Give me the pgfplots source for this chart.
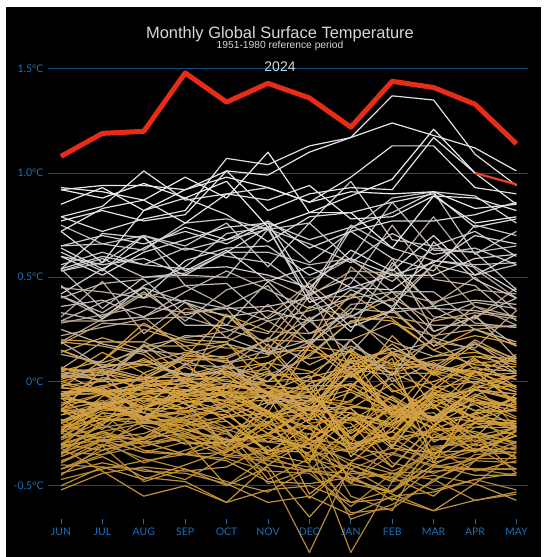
\documentclass[border=0pt]{standalone}
\usepackage{pgfplots}
\pgfplotsset{compat=1.18}
\usepackage{pgfplotstable}
\usetikzlibrary{backgrounds}
\usepackage{fontspec}
\setmainfont{Lato}
\newfontfamily\helv{Liberation Sans}
\definecolor{tickblue}{RGB}{25,112,185}
\definecolor{gridblue}{RGB}{12,78,128}
\definecolor{cA}{RGB}{172,132,58}
\definecolor{cB}{RGB}{218,162,48}
\definecolor{cC}{RGB}{205,160,90}
\definecolor{cD}{RGB}{182,162,138}
\definecolor{cE}{RGB}{195,190,186}
\definecolor{cF}{RGB}{236,236,240}
\definecolor{hot}{RGB}{232,45,22}
\definecolor{titlegrey}{RGB}{215,215,215}

\pgfplotstableread{
yr m0 m1 m2 m3 m4 m5 m6 m7 m8 m9 m10 m11
1880 -0.16 -0.10 -0.09 -0.14 -0.22 -0.20 -0.09 -0.01 -0.19 -0.04 -0.14 -0.24
1881 -0.27 -0.12 -0.18 -0.23 -0.22 -0.21 -0.17 0.10 0.09 0.05 0.01 -0.02
1882 -0.20 -0.28 -0.13 -0.16 -0.23 -0.29 -0.28 -0.34 -0.27 -0.24 -0.34 -0.20
1883 -0.14 -0.09 -0.19 -0.24 -0.33 -0.19 -0.30 -0.38 -0.32 -0.37 -0.32 -0.42
1884 -0.42 -0.33 -0.29 -0.35 -0.37 -0.43 -0.44 -0.60 -0.44 -0.52 -0.47 -0.52
1885 -0.42 -0.35 -0.31 -0.27 -0.28 -0.29 -0.32 -0.42 -0.34 -0.41 -0.37 -0.31
1886 -0.30 -0.15 -0.31 -0.26 -0.35 -0.37 -0.29 -0.66 -0.59 -0.48 -0.35 -0.34
1887 -0.39 -0.30 -0.37 -0.42 -0.50 -0.36 -0.43 -0.44 -0.46 -0.27 -0.26 -0.31
1888 -0.34 -0.20 -0.13 -0.19 -0.10 -0.03 -0.07 -0.10 0.14 0.04 -0.01 -0.10
1889 -0.11 -0.06 -0.17 -0.27 -0.25 -0.38 -0.41 -0.48 -0.35 -0.40 -0.42 -0.45
1890 -0.36 -0.28 -0.39 -0.33 -0.27 -0.49 -0.42 -0.40 -0.47 -0.31 -0.30 -0.22
1891 -0.30 -0.24 -0.20 -0.18 -0.36 -0.38 -0.12 -0.49 -0.30 -0.37 -0.26 -0.22
1892 -0.34 -0.35 -0.27 -0.14 -0.31 -0.43 -0.82 -0.40 -0.48 -0.45 -0.49 -0.34
1893 -0.34 -0.28 -0.34 -0.29 -0.30 -0.33 -0.30 -0.82 -0.48 -0.32 -0.28 -0.33
1894 -0.32 -0.21 -0.27 -0.23 -0.29 -0.25 -0.21 -0.55 -0.62 -0.25 -0.34 -0.24
1895 -0.25 -0.12 -0.08 -0.15 -0.10 -0.14 -0.30 -0.34 -0.43 -0.35 -0.20 -0.20
1896 -0.06 -0.02 -0.11 -0.06 -0.06 -0.16 -0.09 -0.11 -0.16 -0.19 0.05 -0.04
1897 -0.20 -0.12 -0.05 -0.10 -0.09 -0.23 -0.25 -0.22 -0.11 -0.36 -0.15 -0.32
1898 -0.30 -0.25 -0.29 -0.28 -0.36 -0.34 -0.28 -0.15 -0.39 -0.44 -0.37 -0.29
1899 -0.20 -0.11 -0.03 -0.07 -0.06 -0.05 -0.28 -0.30 -0.24 -0.06 -0.14 -0.14
1900 -0.10 -0.10 -0.02 0.01 0.01 -0.06 -0.20 -0.18 -0.21 -0.07 -0.04 -0.06
1901 -0.13 -0.17 -0.13 -0.20 -0.25 -0.37 -0.25 -0.34 -0.17 -0.11 -0.31 -0.26
1902 -0.36 -0.28 -0.30 -0.25 -0.32 -0.40 -0.43 -0.24 -0.07 -0.33 -0.26 -0.44
1903 -0.38 -0.31 -0.48 -0.42 -0.48 -0.53 -0.42 -0.63 -0.61 -0.47 -0.57 -0.54
1904 -0.50 -0.41 -0.42 -0.47 -0.36 -0.25 -0.35 -0.49 -0.53 -0.36 -0.37 -0.37
1905 -0.27 -0.22 -0.19 -0.21 -0.31 -0.06 -0.14 -0.13 -0.28 -0.10 -0.02 -0.22
1906 -0.23 -0.31 -0.18 -0.25 -0.32 -0.14 -0.40 -0.58 -0.52 -0.40 -0.45 -0.45
1907 -0.47 -0.42 -0.38 -0.35 -0.23 -0.47 -0.37 -0.42 -0.53 -0.32 -0.43 -0.38
1908 -0.42 -0.36 -0.46 -0.48 -0.58 -0.52 -0.50 -0.58 -0.56 -0.62 -0.57 -0.53
1909 -0.52 -0.44 -0.41 -0.43 -0.41 -0.31 -0.56 -0.39 -0.44 -0.47 -0.38 -0.39
1910 -0.44 -0.39 -0.43 -0.44 -0.49 -0.58 -0.55 -0.64 -0.55 -0.53 -0.47 -0.44
1911 -0.40 -0.41 -0.47 -0.40 -0.33 -0.27 -0.32 -0.45 -0.57 -0.41 -0.42 -0.42
1912 -0.32 -0.43 -0.55 -0.50 -0.58 -0.40 -0.43 -0.47 -0.44 -0.43 -0.42 -0.42
1913 -0.39 -0.28 -0.34 -0.35 -0.34 -0.17 -0.16 0.04 -0.11 -0.18 -0.08 -0.17
1914 -0.28 -0.19 -0.17 -0.15 -0.03 -0.17 -0.12 -0.19 -0.07 -0.18 -0.06 -0.13
1915 -0.13 -0.10 -0.15 -0.19 -0.24 -0.15 -0.23 -0.12 -0.15 -0.28 -0.26 -0.37
1916 -0.45 -0.31 -0.29 -0.35 -0.38 -0.48 -0.49 -0.46 -0.54 -0.62 -0.49 -0.57
1917 -0.35 -0.19 -0.17 -0.28 -0.50 -0.41 -0.65 -0.43 -0.46 -0.55 -0.38 -0.23
1918 -0.30 -0.24 -0.29 -0.21 -0.11 -0.21 -0.38 -0.23 -0.27 -0.39 -0.33 -0.32
1919 -0.25 -0.27 -0.25 -0.17 -0.24 -0.40 -0.28 -0.15 -0.28 -0.23 -0.24 -0.30
1920 -0.32 -0.26 -0.28 -0.18 -0.28 -0.35 -0.39 -0.02 -0.14 -0.19 -0.33 -0.26
1921 -0.25 -0.10 -0.20 -0.17 -0.12 -0.25 -0.12 -0.27 -0.41 -0.21 -0.33 -0.34
1922 -0.35 -0.24 -0.33 -0.35 -0.29 -0.20 -0.28 -0.40 -0.48 -0.23 -0.22 -0.19
1923 -0.31 -0.28 -0.27 -0.17 -0.14 -0.06 -0.07 -0.18 -0.29 -0.24 -0.20 -0.21
1924 -0.18 -0.29 -0.21 -0.26 -0.34 -0.21 -0.36 -0.32 -0.35 -0.17 -0.25 -0.29
1925 -0.22 -0.18 -0.18 -0.14 -0.12 0.03 0.04 0.15 0.04 0.04 -0.10 -0.12
1926 -0.14 -0.23 -0.07 -0.10 -0.09 -0.07 -0.20 -0.33 -0.16 -0.15 -0.29 -0.22
1927 -0.22 -0.12 -0.17 -0.07 -0.05 -0.07 -0.38 -0.02 -0.14 -0.28 -0.27 -0.24
1928 -0.31 -0.15 -0.17 -0.20 -0.17 -0.15 -0.22 -0.47 -0.53 -0.40 -0.30 -0.36
1929 -0.30 -0.33 -0.27 -0.25 -0.17 -0.15 -0.54 -0.39 -0.22 -0.27 -0.18 -0.23
1930 -0.20 -0.13 -0.12 -0.08 -0.09 0.09 -0.05 -0.28 -0.12 -0.11 -0.17 -0.22
1931 -0.07 -0.02 0.01 -0.07 0.03 -0.09 -0.14 0.11 -0.32 -0.04 -0.10 -0.18
1932 -0.23 -0.14 -0.13 -0.04 -0.12 -0.25 -0.13 -0.31 -0.24 -0.35 -0.22 -0.22
1933 -0.24 -0.18 -0.20 -0.21 -0.19 -0.33 -0.34 -0.17 -0.22 -0.06 -0.14 -0.08
1934 -0.06 -0.06 -0.06 -0.13 -0.05 -0.05 -0.02 -0.30 0.05 -0.29 -0.20 -0.26
1935 -0.27 -0.15 -0.17 -0.14 -0.16 -0.29 -0.18 -0.20 -0.41 -0.21 -0.10 -0.11
1936 -0.07 -0.05 -0.04 -0.06 -0.02 -0.05 -0.05 -0.25 -0.12 -0.17 -0.04 -0.09
1937 0.01 0.07 0.17 0.17 0.04 -0.02 -0.04 0.11 0.14 0.08 0.02 -0.05
1938 -0.01 -0.06 -0.02 0.08 0.18 0.06 -0.18 -0.09 0.02 -0.21 -0.03 -0.02
1939 -0.03 -0.04 -0.06 -0.05 0.03 0.06 0.31 0.02 0.13 0.04 0.18 0.11
1940 0.15 0.07 0.09 0.14 0.09 0.12 0.36 0.31 0.29 0.15 0.25 0.17
1941 0.14 0.21 0.15 -0.01 0.32 0.14 0.15 0.09 0.04 0.10 0.12 0.11
1942 0.06 0.04 0.00 0.01 0.06 0.09 0.05 -0.04 0.22 0.03 0.09 0.10
1943 0.02 0.14 0.04 0.12 0.32 0.24 0.23 0.28 0.34 0.17 0.22 0.18
1944 0.20 0.19 0.19 0.35 0.32 0.17 0.11 0.14 0.04 -0.04 0.11 -0.03
1945 -0.03 0.10 0.28 0.17 0.19 -0.03 -0.10 0.16 -0.04 -0.13 0.05 -0.11
1946 -0.24 -0.07 -0.02 -0.01 -0.05 -0.15 -0.28 -0.12 -0.14 0.07 0.05 -0.10
1947 0.00 -0.05 -0.12 -0.05 0.07 -0.06 -0.19 0.05 -0.14 -0.22 -0.01 0.03
1948 -0.13 -0.06 -0.13 -0.13 -0.05 -0.14 -0.28 0.07 -0.16 -0.06 -0.09 -0.12
1949 -0.16 -0.12 -0.08 -0.10 -0.06 -0.17 -0.13 -0.30 -0.27 -0.09 -0.17 -0.19
1950 -0.08 -0.11 -0.17 -0.07 -0.19 -0.34 -0.21 -0.32 -0.27 -0.07 -0.20 -0.06
1951 -0.14 0.06 0.01 0.11 0.10 -0.06 0.17 0.14 -0.05 0.00 0.07 0.01
1952 -0.06 -0.03 0.02 0.02 -0.08 -0.20 -0.01 0.06 0.07 0.12 0.14 0.09
1953 0.06 0.04 0.08 0.10 0.03 -0.10 -0.05 -0.27 -0.12 -0.23 -0.15 -0.14
1954 -0.14 -0.18 -0.13 -0.06 -0.03 0.05 -0.18 0.13 -0.17 -0.17 -0.19 -0.20
1955 -0.08 -0.21 0.00 -0.09 -0.14 -0.35 -0.30 -0.17 -0.32 -0.34 -0.33 -0.26
1956 -0.19 -0.13 -0.15 -0.23 -0.28 -0.26 -0.13 -0.05 -0.15 -0.06 0.05 -0.03
1957 0.02 0.03 0.11 0.01 0.02 0.09 0.19 0.42 0.30 0.15 0.08 0.07
1958 0.00 0.05 -0.05 -0.04 -0.03 0.00 0.02 0.07 0.08 0.08 0.03 0.04
1959 0.06 0.05 0.01 -0.02 -0.10 -0.09 -0.02 -0.02 0.11 -0.39 -0.07 -0.13
1960 -0.03 -0.05 -0.01 0.07 -0.02 -0.15 0.17 0.02 0.14 -0.02 0.12 0.08
1961 0.07 0.00 0.01 0.04 0.00 -0.02 -0.13 0.07 0.16 0.06 0.05 0.01
1962 0.04 -0.05 -0.03 0.01 -0.05 0.04 0.00 0.03 0.13 -0.12 -0.03 0.03
1963 0.05 0.10 0.25 0.19 0.16 0.16 -0.05 -0.01 -0.09 -0.18 -0.04 -0.08
1964 -0.05 -0.04 -0.22 -0.30 -0.29 -0.26 -0.32 -0.15 -0.20 -0.12 -0.27 -0.08
1965 -0.07 -0.12 -0.06 -0.02 -0.01 -0.05 -0.08 -0.13 -0.01 -0.19 -0.07 0.03
1966 -0.06 0.01 -0.10 0.00 -0.15 -0.05 -0.16 0.04 -0.16 -0.03 0.00 -0.05
1967 -0.12 0.02 -0.03 -0.05 0.05 -0.05 0.03 -0.36 -0.19 -0.05 -0.18 -0.13
1968 -0.08 -0.11 -0.08 -0.13 -0.01 -0.05 -0.14 -0.15 -0.21 0.05 0.20 0.10
1969 0.03 0.01 0.01 0.12 0.12 0.20 0.19 0.04 0.18 0.04 0.10 0.04
1970 -0.06 -0.03 -0.15 0.09 -0.08 -0.07 -0.11 0.03 -0.08 -0.19 -0.16 -0.08
1971 -0.14 -0.13 -0.01 -0.04 -0.07 -0.07 -0.08 -0.32 -0.24 -0.02 -0.10 -0.14
1972 -0.02 0.00 0.18 0.03 0.08 0.00 0.13 0.29 0.31 0.27 0.27 0.26
1973 0.15 0.08 0.08 0.03 0.04 -0.06 -0.12 -0.13 -0.31 -0.08 -0.04 -0.06
1974 -0.06 -0.13 0.04 -0.11 -0.17 -0.10 -0.09 0.10 0.06 0.08 0.04 0.13
1975 -0.06 -0.04 -0.13 -0.06 -0.11 -0.17 -0.09 -0.04 -0.13 -0.17 -0.11 -0.22
1976 -0.19 -0.10 -0.17 -0.10 -0.31 -0.11 0.01 0.20 0.28 0.22 0.25 0.27
1977 0.19 0.17 0.13 0.00 -0.03 0.18 -0.04 0.09 0.16 0.07 0.19 0.05
1978 0.02 0.06 -0.20 0.02 0.07 0.21 0.08 0.17 0.08 0.20 0.06 0.05
1979 0.05 0.00 0.17 0.21 0.24 0.31 0.47 0.31 0.40 0.29 0.33 0.30
1980 0.18 0.28 0.27 0.20 0.19 0.29 0.18 0.55 0.39 0.56 0.36 0.31
1981 0.29 0.29 0.31 0.15 0.11 0.20 0.43 0.06 0.03 0.21 0.15 0.04
1982 0.03 0.07 0.02 0.13 0.09 0.15 0.41 0.53 0.52 0.31 0.30 0.45
1983 0.19 0.30 0.42 0.38 0.21 0.37 0.18 0.32 0.14 0.19 0.16 0.34
1984 0.06 0.19 0.19 0.10 0.11 -0.11 -0.07 0.20 0.00 0.09 -0.01 0.12
1985 0.04 0.03 0.17 0.08 0.07 0.03 0.12 0.29 0.19 0.12 0.18 0.09
1986 0.13 0.09 0.15 0.13 0.18 0.13 0.17 0.37 0.39 0.21 0.36 0.27
1987 0.31 0.48 0.23 0.38 0.27 0.23 0.48 0.59 0.43 0.38 0.44 0.42
1988 0.28 0.32 0.36 0.33 0.35 0.13 0.29 0.14 0.35 0.17 0.32 0.11
1989 0.22 0.26 0.30 0.31 0.25 0.19 0.30 0.40 0.55 0.79 0.54 0.40
1990 0.41 0.31 0.43 0.29 0.44 0.49 0.40 0.41 0.54 0.37 0.50 0.34
1991 0.45 0.43 0.40 0.46 0.36 0.29 0.34 0.40 0.43 0.43 0.28 0.26
1992 0.19 0.07 0.10 0.03 0.05 0.00 0.18 0.35 0.33 0.36 0.25 0.19
1993 0.25 0.18 0.14 0.22 0.21 0.14 0.20 0.20 0.03 0.30 0.38 0.35
1994 0.33 0.29 0.31 0.43 0.53 0.44 0.35 0.47 0.75 0.49 0.46 0.29
1995 0.40 0.47 0.49 0.32 0.36 0.46 0.23 0.33 0.59 0.24 0.31 0.17
1996 0.29 0.38 0.45 0.27 0.27 0.48 0.29 0.31 0.43 0.24 0.31 0.40
1997 0.54 0.35 0.50 0.52 0.62 0.62 0.56 0.59 0.86 0.63 0.62 0.65
1998 0.75 0.66 0.70 0.46 0.47 0.30 0.42 0.50 0.35 0.35 0.34 0.31
1999 0.36 0.39 0.31 0.39 0.35 0.36 0.40 0.24 0.57 0.36 0.39 0.37
2000 0.41 0.33 0.45 0.38 0.31 0.34 0.29 0.44 0.36 0.56 0.51 0.56
2001 0.53 0.59 0.50 0.51 0.50 0.73 0.41 0.73 0.88 0.91 0.61 0.72
2002 0.56 0.62 0.56 0.64 0.60 0.57 0.43 0.75 0.64 0.58 0.56 0.57
2003 0.53 0.57 0.70 0.65 0.76 0.55 0.76 0.58 0.48 0.64 0.62 0.44
2004 0.46 0.30 0.46 0.55 0.71 0.74 0.57 0.72 0.59 0.53 0.75 0.70
2005 0.65 0.66 0.63 0.76 0.78 0.73 0.66 0.57 0.71 0.61 0.64 0.56
2006 0.62 0.53 0.70 0.63 0.68 0.73 0.76 0.96 0.68 0.65 0.72 0.60
2007 0.54 0.60 0.56 0.54 0.55 0.51 0.45 0.26 0.34 0.67 0.49 0.40
2008 0.42 0.54 0.40 0.58 0.64 0.65 0.51 0.59 0.51 0.51 0.59 0.61
2009 0.65 0.70 0.66 0.72 0.66 0.76 0.68 0.74 0.81 0.91 0.89 0.76
2010 0.60 0.56 0.59 0.51 0.62 0.74 0.38 0.45 0.44 0.58 0.55 0.43
2011 0.54 0.71 0.69 0.53 0.63 0.48 0.55 0.45 0.51 0.57 0.70 0.66
2012 0.60 0.51 0.62 0.68 0.74 0.76 0.45 0.63 0.53 0.70 0.51 0.61
2013 0.64 0.54 0.64 0.74 0.68 0.77 0.64 0.72 0.77 0.77 0.80 0.86
2014 0.72 0.57 0.82 0.88 0.80 0.67 0.79 0.81 0.86 0.90 0.74 0.78
2015 0.79 0.72 0.78 0.82 1.07 1.04 1.13 1.17 1.37 1.35 1.09 0.94
2016 0.79 0.84 1.01 0.87 0.90 0.93 0.86 0.98 1.13 1.13 0.93 0.90
2017 0.72 0.83 0.87 0.76 0.90 0.87 0.94 0.78 0.79 0.89 0.88 0.82
2018 0.77 0.82 0.77 0.80 1.01 0.82 0.90 0.93 0.92 1.17 1.00 0.85
2019 0.92 0.94 0.94 0.92 1.01 0.99 1.10 1.17 1.24 1.18 1.12 1.01
2020 0.93 0.91 0.87 0.98 0.88 1.10 0.81 0.81 0.64 0.89 0.76 0.79
2021 0.85 0.93 0.82 0.92 0.98 0.93 0.86 0.91 0.90 0.91 0.83 0.85
2022 0.92 0.88 0.95 0.88 0.96 0.74 0.81 0.89 0.97 1.21 1.00 0.945
2023 1.08 1.19 1.20 1.48 1.34 1.43 1.36 1.22 1.44 1.41 1.33 1.14
}\raw
\pgfplotstabletranspose[colnames from=yr]{\data}{\raw}

\begin{document}
\pgfplotsforeachungrouped \k in {1,...,143}{%
  \ifnum\k<72 \pgfmathtruncatemacro\p{(\k-1)*100/70}\edef\tmp{\noexpand\colorlet{c\k}{cB!\p!cA}}%
  \else\ifnum\k<97 \pgfmathtruncatemacro\p{(\k-71)*4}\edef\tmp{\noexpand\colorlet{c\k}{cC!\p!cB}}%
  \else\ifnum\k<107 \pgfmathtruncatemacro\p{(\k-96)*10}\edef\tmp{\noexpand\colorlet{c\k}{cD!\p!cC}}%
  \else\ifnum\k<122 \pgfmathtruncatemacro\p{(\k-106)*100/15}\edef\tmp{\noexpand\colorlet{c\k}{cE!\p!cD}}%
  \else \pgfmathtruncatemacro\p{(\k-121)*100/22}\edef\tmp{\noexpand\colorlet{c\k}{cF!\p!cE}}%
  \fi\fi\fi\fi
  \tmp
}%
\begin{tikzpicture}
\begin{axis}[
  scale only axis, width=480bp, height=460.8bp,
  xmin=-0.314, xmax=11.28, ymin=-0.66, ymax=1.55,
  clip=false,
  axis line style={draw=none},
  xtick={0,1,2,3,4,5,6,7,8,9,10,11},
  xticklabels={JUN,JUL,AUG,SEP,OCT,NOV,DEC,JAN,FEB,MAR,APR,MAY},
  ytick={-0.5,0,0.5,1,1.5},
  yticklabels={-0.5°C,0°C,0.5°C,1.0°C,1.5°C},
  tick pos=left,
  tick align=outside,
  major tick length=5bp,
  xtick style={draw=tickblue, line width=0.8bp},
  ytick style={draw=none},
  ymajorgrids, grid style={draw=gridblue, line width=0.9bp},
  ticklabel style={font=\fontsize{10.5}{12}\selectfont, text=tickblue},
  yticklabel style={xshift=4bp},
  every axis plot/.append style={no markers, line join=round},
]
\coordinate (W1) at (axis cs:-1.4734,-0.8417);
\coordinate (W2) at (axis cs:11.739,1.8297);
\coordinate (B1) at (axis cs:-1.3285,-0.8417);
\coordinate (B2) at (axis cs:11.594,1.796);
\coordinate (T1) at (axis cs:5.29,1.6427);
\coordinate (T2) at (axis cs:5.29,1.5947);
\coordinate (T3) at (axis cs:5.29,1.4844);
\pgfplotsinvokeforeach{1,...,143}{%
  \addplot[draw=c#1, line width=1.2bp] table[x expr=\coordindex, y index=#1] {\data};
}
\addplot[draw=hot, line width=2.5bp, opacity=0.85] coordinates {(10,1.00) (11,0.945)};
\addplot[draw=hot, line width=5bp] table[x expr=\coordindex, y index=144] {\data};
\end{axis}
\begin{scope}[on background layer]
\fill[white] (W1) rectangle (W2);
\fill[black] (B1) rectangle (B2);
\end{scope}
\node[text=titlegrey, font=\helv\fontsize{16.5}{18}\selectfont, anchor=base] at (T1) {Monthly Global Surface Temperature};
\node[text=titlegrey, font=\helv\fontsize{10.3}{12}\selectfont, anchor=base] at (T2) {1951-1980 reference period};
\node[text=titlegrey, font=\helv\fontsize{14}{16}\selectfont, anchor=base] at (T3) {2024};
\end{tikzpicture}
\end{document}
